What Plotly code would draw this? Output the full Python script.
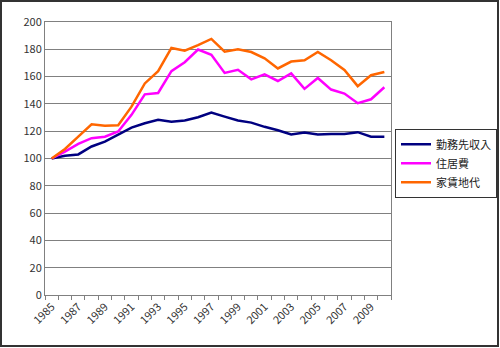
import plotly.graph_objects as go

years = list(range(1985, 2011))
income = [100, 102, 103, 108.8, 112.4, 117.3, 122.6, 125.8, 128.3, 127, 127.8, 130.2, 133.7,
          130.7, 127.8, 126.3, 123.2, 120.7, 117.6, 119, 117.6, 118, 118, 119.3, 116, 116]
housing = [100, 105, 110.7, 114.9, 116, 119.8, 132, 147, 148, 164, 170.5, 179.8, 176,
           162.7, 165, 158, 161.7, 156.8, 162.4, 151, 159, 150.5, 147.6, 140.5, 143.4, 152.2]
rent = [100, 107, 116, 125, 124, 124.4, 138, 155, 164, 181, 179, 183, 187.6,
        178.3, 180, 178, 173.4, 166, 171, 172, 178, 172, 164.9, 153, 161, 163.4]
names = ["勤務先収入", "住居費", "家賃地代"]
colors = ["#000080", "#FF00FF", "#FF6600"]
label_years = list(range(1985, 2011, 2))
y_ticks = list(range(0, 201, 20))

fig = go.Figure()
for nm, vals, c in zip(names, [income, housing, rent], colors):
    fig.add_trace(go.Scatter(x=years, y=vals, mode="lines", name=nm,
                             line=dict(color=c, width=2.5)))

font = "Noto Sans CJK JP, DejaVu Sans, sans-serif"
fig.update_layout(
    width=500, height=348,
    margin=dict(l=45, r=109, t=22, b=53, autoexpand=False),
    paper_bgcolor="white", plot_bgcolor="white",
    font=dict(family=font, size=11, color="#333333"),
    showlegend=True,
    legend=dict(xref="container", yref="container", x=0.79, y=0.63,
                xanchor="left", yanchor="top",
                bordercolor="#333333", borderwidth=1, bgcolor="white",
                font=dict(size=11, color="#222222"),
                tracegroupgap=0, itemwidth=30),
    xaxis=dict(range=[1984.5, 2010.5], tickmode="array", tickvals=label_years,
               ticktext=[str(y) for y in label_years], tickangle=-45,
               ticks="", showgrid=False, zeroline=False,
               showline=True, linecolor="#808080", linewidth=1, mirror=True,
               tickfont=dict(size=11, color="#333333"), automargin=False,
               minor=dict(tickvals=[y + 0.5 for y in range(1984, 2011)],
                          ticks="outside", ticklen=4, tickcolor="#808080", showgrid=False)),
    yaxis=dict(range=[0, 200], tickmode="array", tickvals=y_ticks,
               showgrid=True, gridcolor="#808080", gridwidth=1, zeroline=False,
               showline=True, linecolor="#808080", linewidth=1, mirror=True,
               ticks="", tickfont=dict(size=11, color="#333333"), automargin=False),
    shapes=[dict(type="rect", xref="paper", yref="paper",
                 x0=(1 - 45) / 346, x1=(498 - 45) / 346,
                 y0=(295 - 346) / 273, y1=(295 - 1) / 273,
                 line=dict(color="#333333", width=2), layer="below")],
)

fig.write_html("out.html")
